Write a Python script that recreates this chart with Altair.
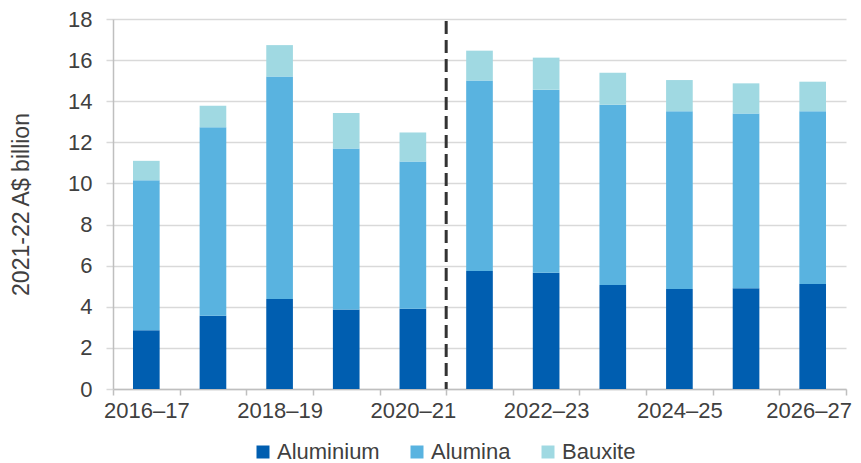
import altair as alt
import pandas as pd

years = ["2016–17", "2017–18", "2018–19", "2019–20", "2020–21", "2021–22",
         "2022–23", "2023–24", "2024–25", "2025–26", "2026–27"]
aluminium = [2.86, 3.56, 4.38, 3.87, 3.90, 5.74, 5.65, 5.06, 4.87, 4.90, 5.11]
alumina = [7.29, 9.17, 10.82, 7.83, 7.17, 9.27, 8.91, 8.77, 8.64, 8.50, 8.40]
bauxite = [0.95, 1.05, 1.53, 1.73, 1.41, 1.45, 1.56, 1.56, 1.52, 1.47, 1.44]
series = ["Aluminium", "Alumina", "Bauxite"]
colors = ["#005EB0", "#59B3E0", "#A0D9E2"]
labelled = ["2016–17", "2018–19", "2020–21", "2022–23", "2024–25", "2026–27"]
divider = ["2021–22"]

rows = []
for i, yr in enumerate(years):
    for k, (s, vals) in enumerate(zip(series, [aluminium, alumina, bauxite])):
        rows.append({"year": yr, "series": s, "value": vals[i], "order": k})
df = pd.DataFrame(rows)
div_df = pd.DataFrame({"year": divider})

FONT = "Liberation Sans"
TXT = "#404040"

xscale = alt.Scale(domain=years, paddingInner=0, paddingOuter=0)
label_list = "[" + ",".join("'" + l + "'" for l in labelled) + "]"

xaxis = alt.Axis(tickBand="extent", labelAngle=0, grid=False,
                 labelExpr=f"indexof({label_list}, datum.value) >= 0 ? datum.value : ''",
                 labelOverlap=False,
                 labelOffset={"condition": {"test": f"datum.value === '{years[-1]}'", "value": -4},
                              "value": 0},
                 labelFontSize=22, labelFont=FONT, labelColor=TXT,
                 labelPadding=5, tickSize=6, tickColor="#BFBFBF", tickWidth=1.5,
                 domainColor="#BFBFBF", domainWidth=1.5)

bars = alt.Chart(df).mark_bar(width=alt.RelativeBandSize(0.4)).encode(
    x=alt.X("year:N", scale=xscale, sort=years, title=None, axis=xaxis),
    y=alt.Y("value:Q", stack="zero", title="2021-22 A$ billion",
            scale=alt.Scale(domain=[0, 18], nice=False),
            axis=alt.Axis(values=list(range(0, 19, 2)), grid=True, gridColor="#D9D9D9",
                          gridWidth=1.5, tickSize=7, tickColor="#D9D9D9", tickWidth=1.5,
                          domainColor="#BFBFBF", domainWidth=1.5,
                          labelFontSize=22, labelFont=FONT, labelColor=TXT, labelPadding=14,
                          titleFontSize=23, titleFont=FONT, titleColor=TXT,
                          titleFontWeight="normal", titleX=-92, titleY=185,
                          titleAngle=-90, titleBaseline="middle", titleAlign="center")),
    color=alt.Color("series:N", scale=alt.Scale(domain=series, range=colors),
                    legend=alt.Legend(title=None, orient="none", direction="horizontal",
                                      legendX=139, legendY=422, symbolType="square",
                                      symbolSize=169, symbolStrokeWidth=0,
                                      labelFontSize=22, labelFont=FONT, labelColor=TXT,
                                      labelOffset=3, columnPadding=26)),
    order=alt.Order("order:Q"),
)

rule = alt.Chart(div_df).mark_rule(color="#333333", strokeWidth=3, strokeDash=[13, 6]).encode(
    x=alt.X("year:N", bandPosition=0, scale=xscale, sort=years, title=None, axis=xaxis),
    y=alt.value(2),
    y2=alt.value(370),
)

chart = alt.layer(bars, rule).properties(
    width=733, height=370,
    autosize=alt.AutoSizeParams(type="none"),
    padding={"left": 105, "top": 11, "right": 7, "bottom": 74},
).configure_view(stroke=None)

chart.save("out.html", embed_options={"renderer": "svg", "actions": False})
